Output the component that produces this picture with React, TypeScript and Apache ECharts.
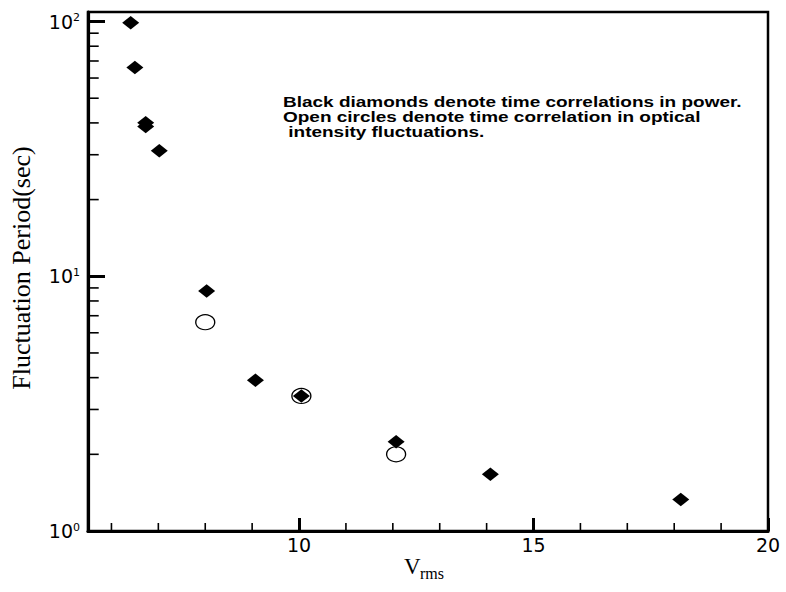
import React, { useEffect, useRef } from "react";
import * as echarts from "echarts";

// ---- data ----
const diamondX = [6.41, 6.5, 6.73, 6.73, 7.02, 8.03, 9.07, 10.05, 12.07, 14.08, 18.14];
const diamondY = [99, 66, 40.1, 38.7, 31.1, 8.75, 3.91, 3.39, 2.24, 1.67, 1.33];
const circleX = [8.0, 10.05, 12.07];
const circleY = [6.6, 3.39, 2.0];

const xMin = 5.5;
const xMax = 20;
const xMajorInterval = 5;
const yMin = 1;
const yMax = 109;
const xMinorTicks = [6, 7, 8, 9, 11, 12, 13, 14, 16, 17, 18, 19];
const yMinorTicks = [2, 3, 4, 5, 6, 7, 8, 9, 20, 30, 40, 50, 60, 70, 80, 90];

const noteLines = [
  "Black diamonds denote time correlations in power.",
  "Open circles denote time correlation in optical",
  " intensity fluctuations.",
];
const yName = "Fluctuation Period(sec)";
const xNameMain = "V";
const xNameSub = "rms";

export default function App() {
  const ref = useRef<HTMLDivElement>(null);
  useEffect(() => {
    if (!ref.current) return;
    const chart = echarts.init(ref.current, null, { renderer: "svg" });
    const option: any = {
      animation: false,
      backgroundColor: "#fff",
      grid: {
        left: 88,
        top: 12,
        right: 18,
        bottom: 61,
        show: true,
        borderColor: "#000",
        borderWidth: 2.5,
        backgroundColor: "transparent",
      },
      xAxis: {
        type: "value",
        min: xMin,
        max: xMax,
        minInterval: xMajorInterval,
        maxInterval: xMajorInterval,
        axisLine: { show: true, onZero: false, lineStyle: { color: "#000", width: 3.2, opacity: 1 } },
        axisTick: { show: true, inside: true, length: 13, lineStyle: { color: "#000", width: 3, opacity: 1 } },
        axisLabel: {
          showMinLabel: false,
          margin: 4,
          fontFamily: "DejaVu Sans",
          fontSize: 19,
          color: "#000",
        },
        splitLine: { show: false },
      },
      yAxis: {
        type: "log",
        logBase: 10,
        min: yMin,
        max: yMax,
        axisLine: { show: true, onZero: false, lineStyle: { color: "#000", width: 3.2, opacity: 1 } },
        axisTick: { show: true, inside: true, length: 17, lineStyle: { color: "#000", width: 3, opacity: 1 } },
        axisLabel: {
          showMaxLabel: false,
          margin: 8,
          formatter: (v: number) => `{b|10}{s|${Math.round(Math.log10(v))}}`,
          rich: {
            b: { fontFamily: "DejaVu Sans", fontSize: 19, color: "#000" },
            s: { fontFamily: "DejaVu Sans", fontSize: 11, color: "#000", verticalAlign: "top" },
          },
        },
        splitLine: { show: false },
      },
      series: [
        {
          type: "custom",
          silent: true,
          clip: false,
          data: xMinorTicks.map((v) => [v, yMin]),
          renderItem: (params: any, api: any) => {
            const p = api.coord([api.value(0), yMin]);
            return {
              type: "line",
              shape: { x1: p[0], y1: p[1], x2: p[0], y2: p[1] - 8 },
              style: { stroke: "#000", lineWidth: 1.6 },
            };
          },
        },
        {
          type: "custom",
          silent: true,
          clip: false,
          data: yMinorTicks.map((v) => [xMin, v]),
          renderItem: (params: any, api: any) => {
            const p = api.coord([xMin, api.value(1)]);
            return {
              type: "line",
              shape: { x1: p[0], y1: p[1], x2: p[0] + 10.7, y2: p[1] },
              style: { stroke: "#000", lineWidth: 1.6 },
            };
          },
        },
        {
          type: "scatter",
          symbol: "circle",
          symbolSize: [19, 15],
          itemStyle: { color: "#fff", borderColor: "#000", borderWidth: 1.2, opacity: 1 },
          data: circleX.map((x, i) => [x, circleY[i]]),
          z: 3,
        },
        {
          type: "scatter",
          symbol: "diamond",
          symbolSize: [17, 13.5],
          itemStyle: { color: "#000", opacity: 1 },
          data: diamondX.map((x, i) => [x, diamondY[i]]),
          z: 4,
        },
      ],
      graphic: [
        {
          type: "text",
          x: 283,
          y: 94.5,
          scaleX: 1.31,
          style: {
            text: noteLines.join("\n"),
            font: "bold 14.5px 'Liberation Sans', Arial, sans-serif",
            fill: "#000",
            lineHeight: 15.3,
            align: "left",
            verticalAlign: "top",
          },
        },
        {
          type: "text",
          x: 21,
          y: 268,
          rotation: Math.PI / 2,
          style: {
            text: yName,
            font: "26px 'Liberation Serif', 'Times New Roman', serif",
            fill: "#000",
            align: "center",
            verticalAlign: "middle",
          },
        },
        {
          type: "text",
          x: 404,
          y: 566,
          style: {
            text: xNameMain,
            font: "23px 'Liberation Serif', 'Times New Roman', serif",
            fill: "#000",
            align: "left",
            verticalAlign: "middle",
          },
        },
        {
          type: "text",
          x: 420,
          y: 573,
          style: {
            text: xNameSub,
            font: "16px 'Liberation Serif', 'Times New Roman', serif",
            fill: "#000",
            align: "left",
            verticalAlign: "middle",
          },
        },
      ],
    };
    chart.setOption(option);
    return () => chart.dispose();
  }, []);
  return (
    <div
      ref={ref}
      style={{ position: "absolute", left: 0, top: 0, width: 786, height: 592 }}
    />
  );
}
